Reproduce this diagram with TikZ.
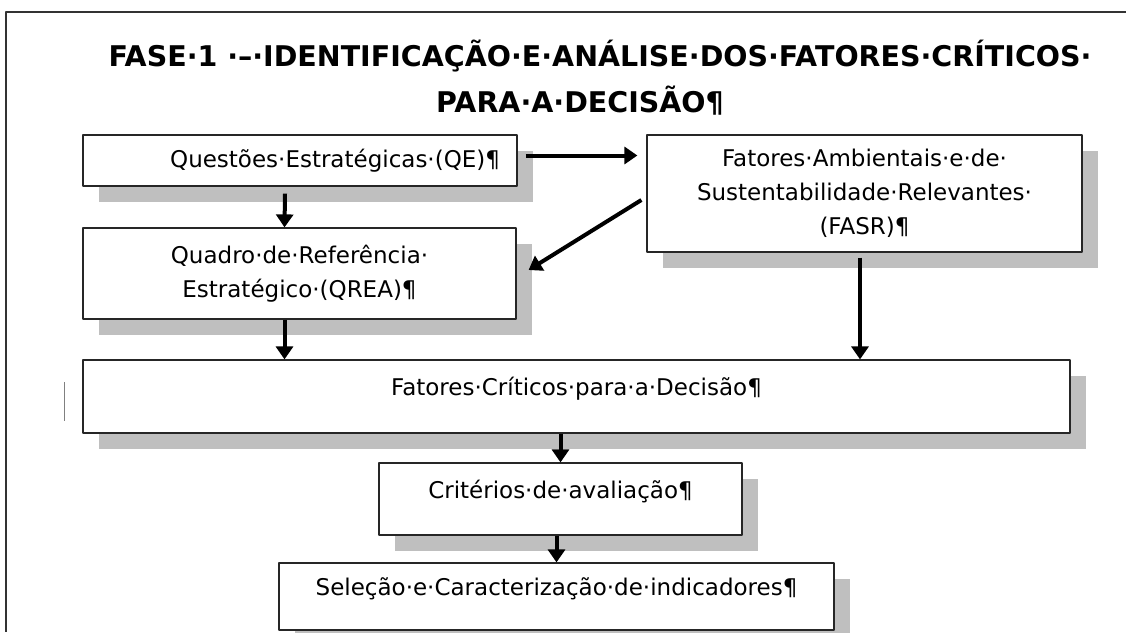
\documentclass[tikz,border=0pt]{standalone}
\usepackage{fontspec}
\setmainfont{DejaVu Sans}
\usetikzlibrary{arrows.meta,shadows}

\begin{document}
\begin{tikzpicture}[x=1pt, y=-1pt, line join=round,
  caixa/.style={draw=black!85, line width=1.2pt, fill=white, inner sep=0pt,
    align=center, font=\fontsize{23}{34}\selectfont,
    drop shadow={shadow xshift=16pt, shadow yshift=-16pt, fill=black!25, opacity=1}},
  acima/.style={text depth=20pt},
  seta/.style={line width=4pt, -{Triangle[length=13pt, width=17pt]}}]
  \useasboundingbox (0,0) rectangle (1126,632);
  % page frame
  \draw[black!80, line width=1.5pt] (1126,12) -- (6,12) -- (6,632);
  % title
  \node[font=\bfseries\fontsize{28.5}{41}\selectfont, align=center] (titulo) at (600,78)
    {FASE·1 ·–·IDENTIFICAÇÃO·E·ANÁLISE·DOS·FATORES·CRÍTICOS·\\[5pt]PARA·A·DECISÃO¶\hspace*{40pt}};
  % boxes
  \node[caixa, minimum width=434, minimum height=51, text width=400, align=right] (QE) at (300,160.5)
    {Questões·Estratégicas·(QE)¶};
  \node[caixa, minimum width=435, minimum height=117] (FASR) at (864.5,193.5)
    {Fatores·Ambientais·e·de·\\Sustentabilidade·Relevantes·\\(FASR)¶};
  \node[caixa, minimum width=433, minimum height=91] (QREA) at (299.5,273.5)
    {Quadro·de·Referência·\\Estratégico·(QREA)¶};
  \node[caixa, acima, minimum width=987, minimum height=73] (FCD) at (576.5,396.5)
    {Fatores·Críticos·para·a·Decisão¶};
  \node[caixa, acima, minimum width=363, minimum height=72] (CA) at (560.5,499)
    {Critérios·de·avaliação¶};
  \node[caixa, acima, minimum width=555, minimum height=67] (SCI) at (556.5,596.5)
    {Seleção·e·Caracterização·de·indicadores¶};
  % text cursor
  \draw[gray, line width=1pt] (64,382) -- (64,421);
  % arrows
  \coordinate (qe-out) at ([xshift=8pt, yshift=5pt]QE.east);
  \draw[seta] (qe-out) -- ([xshift=-9pt]FASR.west |- qe-out);
  \draw[seta] ([xshift=-15pt, yshift=-7pt]QE.south) -- ([xshift=-15pt]QREA.north);
  \draw[seta] ([xshift=-5pt, yshift=-6.5pt]FASR.west) -- ([xshift=12pt, yshift=3.5pt]QREA.east);
  \draw[seta] ([xshift=-15pt]QREA.south) -- ([xshift=-15pt]QREA.south |- FCD.north);
  \draw[seta] ([xshift=-4.5pt, yshift=-5pt]FASR.south) -- ([xshift=-4.5pt]FASR.south |- FCD.north);
  \draw[seta] (CA.north |- FCD.south) -- (CA.north);
  \draw[seta] (SCI.north |- CA.south) -- (SCI.north);
\end{tikzpicture}
\end{document}
